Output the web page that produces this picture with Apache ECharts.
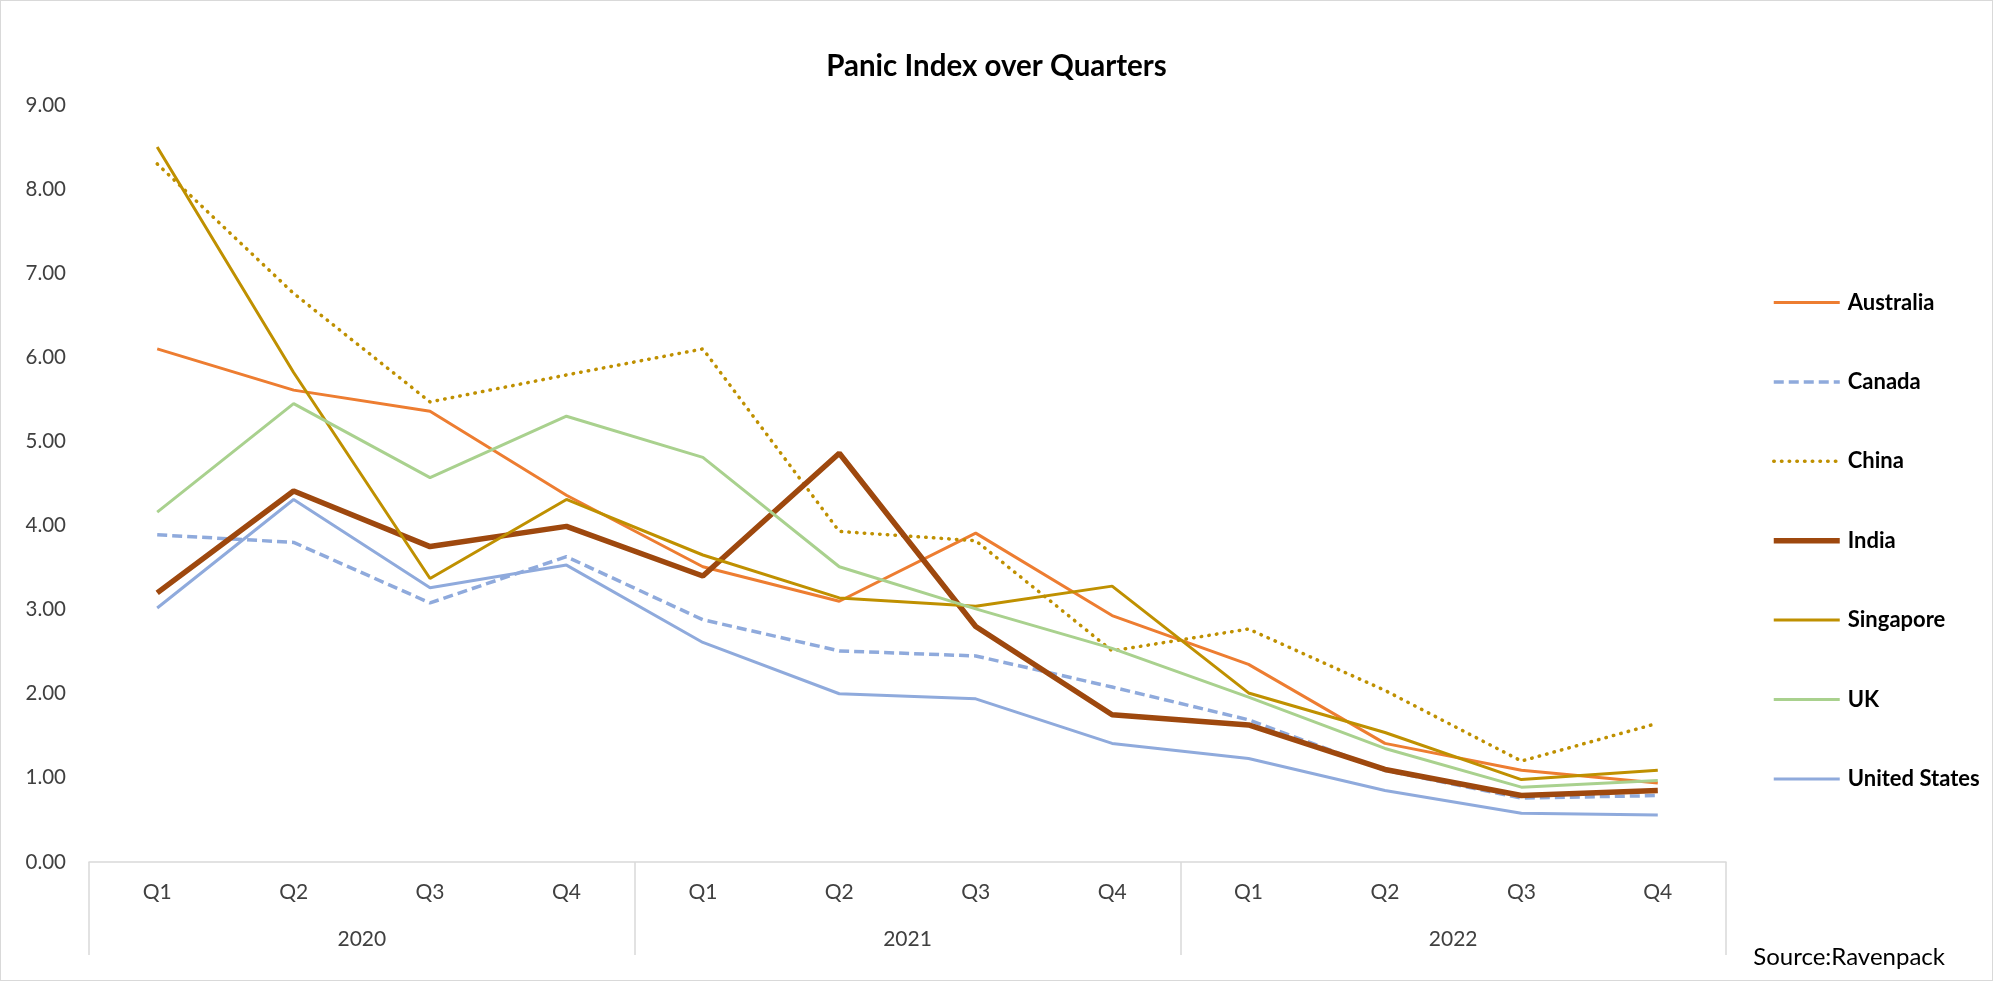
<!DOCTYPE html>
<html>
<head>
<meta charset="utf-8">
<script src="https://cdn.jsdelivr.net/npm/echarts@6/dist/echarts.min.js"></script>
<style>
  html, body { margin: 0; padding: 0; background: #fff; }
  #chart { width: 1993px; height: 981px; position: relative; }
  #frame { position: absolute; left: 0; top: 0; width: 1993px; height: 981px; box-sizing: border-box; border: 1px solid #d9d9d9; pointer-events: none; }
</style>
</head>
<body>
<div id="chart"></div>
<div id="frame"></div>
<script>
const quarters = ['Q1','Q2','Q3','Q4','Q1','Q2','Q3','Q4','Q1','Q2','Q3','Q4'];
const years = ['2020','2021','2022'];
const australia = [6.10, 5.61, 5.36, 4.36, 3.51, 3.10, 3.91, 2.93, 2.35, 1.41, 1.09, 0.94];
const canada    = [3.89, 3.80, 3.08, 3.63, 2.88, 2.51, 2.45, 2.08, 1.69, 1.09, 0.76, 0.79];
const china     = [8.30, 6.76, 5.47, 5.79, 6.10, 3.93, 3.82, 2.51, 2.77, 2.04, 1.20, 1.65];
const india     = [3.20, 4.41, 3.75, 3.99, 3.40, 4.86, 2.80, 1.75, 1.63, 1.10, 0.79, 0.85];
const singapore = [8.50, 5.82, 3.37, 4.31, 3.65, 3.14, 3.04, 3.28, 2.01, 1.54, 0.98, 1.09];
const uk        = [4.16, 5.45, 4.57, 5.30, 4.81, 3.51, 3.01, 2.54, 1.96, 1.35, 0.89, 0.97];
const us        = [3.02, 4.31, 3.26, 3.53, 2.61, 2.00, 1.94, 1.41, 1.23, 0.85, 0.58, 0.56];

const FONT = 'Lato, "Open Sans", sans-serif';
const chart = echarts.init(document.getElementById('chart'), null, { renderer: 'canvas' });

function mk(name, data, color, width, type, cap) {
  return {
    name: name, type: 'line', data: data, xAxisIndex: 0,
    symbol: 'none', showSymbol: false, smooth: false,
    lineStyle: { color: color, width: width, type: type || 'solid', cap: cap || 'butt' },
    itemStyle: { color: color },
    emphasis: { disabled: true },
    z: 2
  };
}

chart.setOption({
  animation: false,
  backgroundColor: '#ffffff',
  title: [
    { text: 'Panic Index over Quarters', left: 'center', top: 46,
      textStyle: { fontFamily: FONT, fontSize: 29.5, fontWeight: 'bold', color: '#000' } },
    { text: 'Source:Ravenpack', right: 43, bottom: 7,
      textStyle: { fontFamily: FONT, fontSize: 24, fontWeight: 'normal', color: '#000' } }
  ],
  legend: {
    orient: 'vertical', left: 1771, top: 290.5, padding: 0,
    itemWidth: 66, itemHeight: 14, itemGap: 55.4,
    itemStyle: { opacity: 0 },
    lineStyle: { width: 'inherit' },
    textStyle: { fontFamily: FONT, fontSize: 22, fontWeight: 'bold', color: '#000', lineHeight: 24, padding: [0, 0, 0, 3] },
    data: ['Australia','Canada','China','India','Singapore','UK','United States']
  },
  grid: { left: 89, right: 267, top: 105, bottom: 119, containLabel: false },
  xAxis: [
    {
      type: 'category', data: quarters, boundaryGap: true, position: 'bottom',
      axisLine: { show: true, lineStyle: { color: '#d9d9d9', width: 1.5 } },
      axisTick: { show: false },
      axisLabel: { interval: 0, margin: 20, fontFamily: FONT, fontSize: 21, color: '#404040' },
      splitLine: { show: false }
    },
    {
      type: 'category', data: years, boundaryGap: true, position: 'bottom', offset: 0,
      axisLine: { show: false },
      axisTick: { show: true, length: 93, inside: false, lineStyle: { color: '#d9d9d9', width: 1.5 } },
      axisLabel: { interval: 0, margin: 67, fontFamily: FONT, fontSize: 21, color: '#404040' },
      splitLine: { show: false }
    }
  ],
  yAxis: {
    type: 'value', min: 0, max: 9, interval: 1,
    axisLine: { show: false }, axisTick: { show: false },
    splitLine: { show: false },
    axisLabel: { margin: 23, fontFamily: FONT, fontSize: 20.5, color: '#404040',
      formatter: v => v.toFixed(2) }
  },
  series: [
    mk('Australia', australia, '#ED7D31', 3),
    mk('Canada', canada, '#8FAADC', 3.5, [10, 5]),
    mk('China', china, '#BF9000', 3.5, [0.5, 7.2], 'round'),
    mk('India', india, '#9E480E', 5.5),
    mk('Singapore', singapore, '#BF9000', 3),
    mk('UK', uk, '#A9D18E', 3),
    mk('United States', us, '#8FAADC', 3)
  ]
});
</script>
</body>
</html>
